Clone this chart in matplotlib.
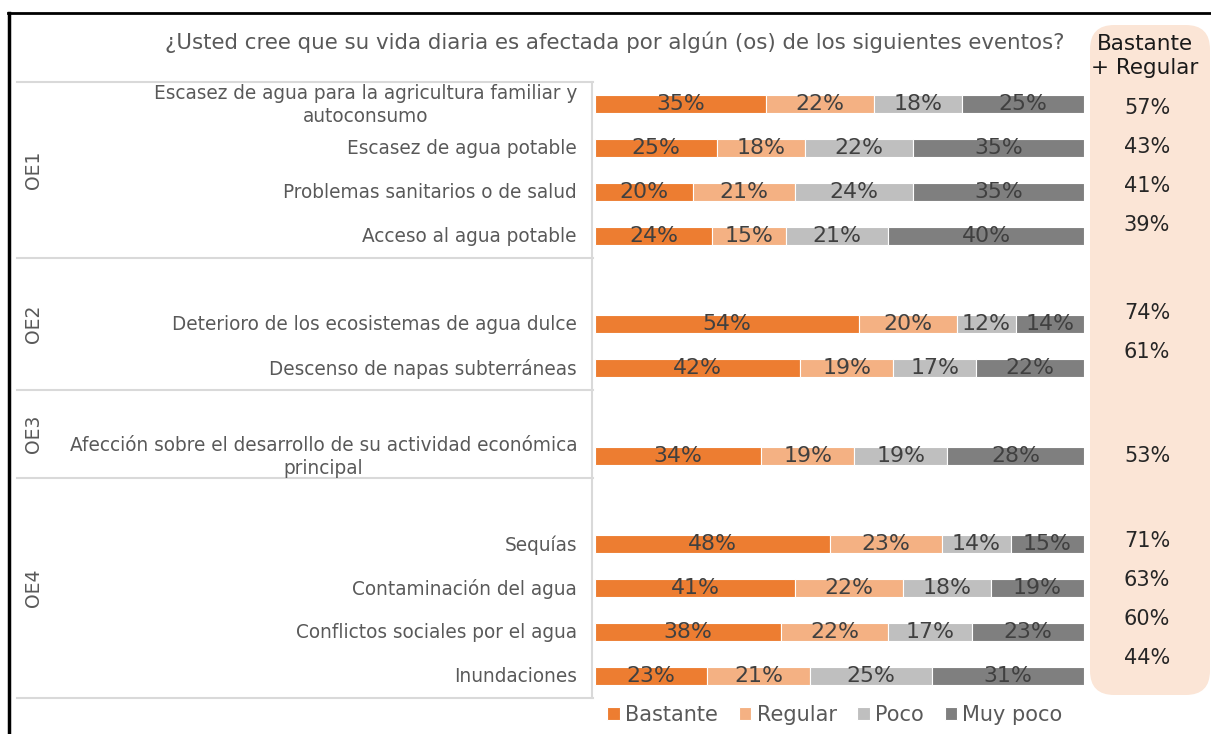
import matplotlib
matplotlib.use("Agg")
import matplotlib.pyplot as plt
from matplotlib.patches import FancyBboxPatch
from matplotlib.lines import Line2D
import matplotlib.transforms as mtransforms
import numpy as np

plt.rcParams['font.family'] = ['DejaVu Sans']

# ---------------- data ----------------
title = "¿Usted cree que su vida diaria es afectada por algún (os) de los siguientes eventos?"
series_names = ["Bastante", "Regular", "Poco", "Muy poco"]
series_colors = ["#ED7D31", "#F4B183", "#BFBFBF", "#7F7F7F"]

groups = ["OE1", "OE2", "OE3", "OE4"]
group_categories = [
    ["Escasez de agua para la agricultura familiar y\nautoconsumo",
     "Escasez de agua potable",
     "Problemas sanitarios o de salud",
     "Acceso al agua potable"],
    ["Deterioro de los ecosistemas de agua dulce",
     "Descenso de napas subterráneas"],
    ["Afección sobre el desarrollo de su actividad económica\nprincipal"],
    ["Sequías",
     "Contaminación del agua",
     "Conflictos sociales por el agua",
     "Inundaciones"],
]

bastante = [35, 25, 20, 24, 54, 42, 34, 48, 41, 38, 23]
regular  = [22, 18, 21, 15, 20, 19, 19, 23, 22, 22, 21]
poco     = [18, 22, 24, 21, 12, 17, 19, 14, 18, 17, 25]
muy_poco = [25, 35, 35, 40, 14, 22, 28, 15, 19, 23, 31]

side_title = "Bastante\n+ Regular"
side_values = ["57%", "43%", "41%", "39%", "74%", "61%", "53%", "71%", "63%", "60%", "44%"]

# ---------------- layout ----------------
W, H = 1211, 734
fig = plt.figure(figsize=(W / 100, H / 100), dpi=100)

def fx(px):
    return px / W

def fy(py):
    return 1 - py / H

# side-panel text positions (pixel rows, layout only)
side_rows_px = [108, 147, 186, 225, 313, 352, 456, 541, 580, 619, 658]

# Build slot positions: a blank slot before every group except the first
slots = []
labels = []
group_spans = []
pos = 0
for gi, cats in enumerate(group_categories):
    start = pos - 0.5
    if gi > 0:
        pos += 1
    for c in cats:
        slots.append(pos)
        labels.append(c)
        pos += 1
    group_spans.append((start, pos - 0.5))
n_slots = pos

ax_left, ax_right = 595, 1084
ax_top, ax_bot = 82, 698
ax = fig.add_axes([fx(ax_left), fy(ax_bot), fx(ax_right - ax_left), (ax_bot - ax_top) / H])
ax.set_xlim(0, 100)
ax.set_ylim(n_slots - 0.5, -0.5)

series = [bastante, regular, poco, muy_poco]
left = np.zeros(len(slots))
for name, vals, col in zip(series_names, series, series_colors):
    vals = np.array(vals, dtype=float)
    bars = ax.barh(slots, vals, left=left, height=0.41, color=col,
                   edgecolor="white", linewidth=0.8, label=name)
    ax.bar_label(bars, labels=[f"{int(v)}%" for v in vals], label_type="center",
                 color="#404040", fontsize=15.8)
    left += vals

ax.set_yticks([])
ax.set_xticks([])
for s in ["top", "right", "bottom"]:
    ax.spines[s].set_visible(False)
ax.spines["left"].set_color("#D9D9D9")
ax.spines["left"].set_linewidth(1.5)
ax.spines["left"].set_position(("outward", 2))

# category labels, group separator lines and group labels
trans = mtransforms.blended_transform_factory(fig.transFigure, ax.transData)
for lab, y in zip(labels, slots):
    ax.text(fx(577), y + 0.02, lab, transform=trans, ha="right", va="center",
            multialignment="center", linespacing=1.25, fontsize=13.35, color="#595959")

bounds = sorted(set([b for span in group_spans for b in span]))
for b in bounds:
    ax.add_line(Line2D([fx(17), fx(593)], [b, b], transform=trans, color="#D9D9D9",
                       linewidth=1.5, clip_on=False))
for g, (a, b) in zip(groups, group_spans):
    ax.text(fx(33), (a + b) / 2, g, transform=trans, rotation=90, ha="center",
            va="center", fontsize=13.5, color="#595959")

# title
fig.text(fx(615), fy(42), title, ha="center", va="center", fontsize=15.4, color="#595959")

# side panel
box = FancyBboxPatch((fx(1090), fy(695)), fx(1210 - 1090), (695 - 25) / H,
                     boxstyle="round,pad=0,rounding_size=0.02",
                     transform=fig.transFigure, facecolor="#FBE5D6", edgecolor="none",
                     mutation_aspect=W / H, zorder=0)
fig.patches.append(box)
fig.text(fx(1145), fy(56), side_title, ha="center", va="center", fontsize=15.5,
         color="#1a1a1a", linespacing=1.25)
for v, r in zip(side_values, side_rows_px):
    fig.text(fx(1147), fy(r), v, ha="center", va="center", fontsize=15, color="#262626")

# frame lines (top and left)
fig.add_artist(Line2D([fx(8), 1], [fy(13), fy(13)], transform=fig.transFigure,
                      color="black", linewidth=2))
fig.add_artist(Line2D([fx(9), fx(9)], [fy(13), 0], transform=fig.transFigure,
                      color="black", linewidth=2.5))

# legend
handles, leg_labels = ax.get_legend_handles_labels()
fig.legend(handles, leg_labels, loc="center", bbox_to_anchor=(fx(835), fy(715)),
           ncol=4, frameon=False, fontsize=15, handlelength=0.6, handleheight=0.6,
           handletextpad=0.25, columnspacing=1.0, labelcolor="#595959")

fig.savefig("out.png", dpi=100)
